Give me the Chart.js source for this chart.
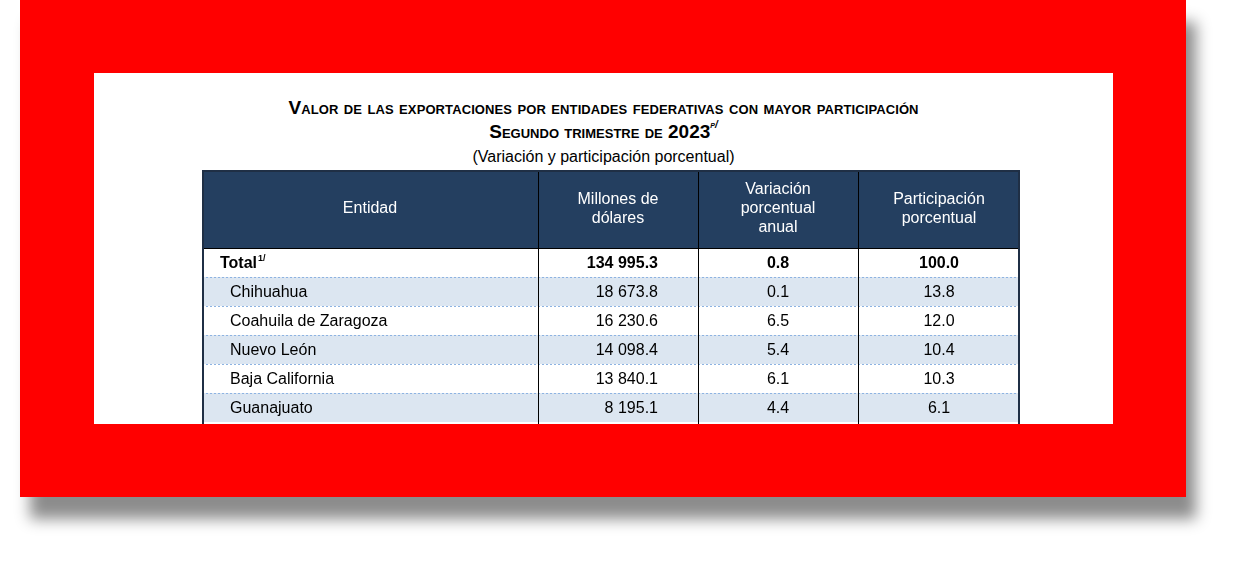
<!DOCTYPE html>
<html><head><meta charset="utf-8">
<script src="https://cdn.jsdelivr.net/npm/chart.js@4"></script>
<style>
html,body{margin:0;padding:0;background:#fff;width:1252px;height:563px;overflow:hidden;font-family:Arial,"Liberation Sans",sans-serif}
#red{position:absolute;left:20px;top:0;width:1166px;height:497px;background:#ff0000;box-shadow:10px 22px 14px rgba(0,0,0,0.45)}
#white{position:absolute;left:74px;top:73px;width:1019px;height:351px;background:#fff;overflow:hidden}
#t1{position:absolute;left:0;width:100%;top:24px;text-align:center;font-weight:bold;font-size:19px;font-variant:small-caps;color:#000;letter-spacing:0.1px}
#t2{position:absolute;left:0;width:100%;top:48px;text-align:center;font-weight:bold;font-size:19px;font-variant:small-caps;color:#000}
#t2 sup{font-size:10px;font-style:italic;vertical-align:top;position:relative;top:-2px}
#t3{position:absolute;left:0;width:100%;top:75px;text-align:center;font-size:16px;color:#000}
#wrap{position:absolute;left:108px;top:97px;width:818px;height:270px}
</style></head><body>
<div id="red"><div id="white">
<div id="t1">Valor de las exportaciones por entidades federativas con mayor participación</div>
<div id="t2">Segundo trimestre de 2023<sup>p/</sup></div>
<div id="t3">(Variación y participación porcentual)</div>
<div id="wrap"><canvas id="c"></canvas></div>
</div></div>
<script>
const headers = [["Entidad"],["Millones de","dólares"],["Variación","porcentual","anual"],["Participación","porcentual"]];
const entidades = ["Total","Chihuahua","Coahuila de Zaragoza","Nuevo León","Baja California","Guanajuato"];
const millones = ["134 995.3","18 673.8","16 230.6","14 098.4","13 840.1","8 195.1"];
const variacion = ["0.8","0.1","6.5","5.4","6.1","4.4"];
const participacion = ["100.0","13.8","12.0","10.4","10.3","6.1"];

const colEdges = [0,336,496,656,818];
const headerH = 2.69;
const rowFill = ["#ffffff","#dce6f1","#ffffff","#dce6f1","#ffffff","#dce6f1"];

const tablePlugin = {
  id:'table',
  afterDatasetsDraw(chart){
    const ctx = chart.ctx, xs = chart.scales.x, ys = chart.scales.y;
    const X = v=>xs.getPixelForValue(v), Y = v=>ys.getPixelForValue(v);
    ctx.save();
    // header
    ctx.fillStyle = "#243f60";
    ctx.fillRect(X(0),Y(0),X(818)-X(0),Y(headerH)-Y(0));
    ctx.fillStyle="#fff"; ctx.font="16px Arial, 'Liberation Sans'"; ctx.textAlign="center"; ctx.textBaseline="middle";
    headers.forEach((lines,i)=>{
      const cx=(X(colEdges[i])+X(colEdges[i+1]))/2, cy=(Y(0)+Y(headerH))/2, lh=19;
      lines.forEach((l,k)=>ctx.fillText(l,cx,cy+(k-(lines.length-1)/2)*lh));
    });
    // rows
    const cols=[entidades,millones,variacion,participacion];
    entidades.forEach((e,r)=>{
      const y0=Y(headerH+r), y1=Y(headerH+r+1);
      ctx.fillStyle=rowFill[r]; ctx.fillRect(X(0),y0,X(818)-X(0),y1-y0);
      ctx.fillStyle="#000";
      const bold = r===0;
      ctx.font=(bold?"bold ":"")+"16px Arial, 'Liberation Sans'";
      const cy=(y0+y1)/2+1;
      ctx.textAlign="left";
      ctx.fillText(e, X(bold?18:28), cy);
      if(bold){const w=ctx.measureText(e).width; ctx.font="bold 9px Arial"; ctx.fillText("1/",X(18)+w+1,cy-5); ctx.font="bold 16px Arial, 'Liberation Sans'";}
      ctx.textAlign="right"; ctx.fillText(millones[r], X(456), cy);
      ctx.textAlign="center";
      ctx.fillText(variacion[r], (X(496)+X(656))/2, cy);
      ctx.fillText(participacion[r], (X(656)+X(818))/2, cy);
      if(r>0){
        ctx.strokeStyle="#8db3e2"; ctx.lineWidth=1; ctx.setLineDash([2,2]);
        ctx.beginPath(); ctx.moveTo(X(0),Math.round(y0)+0.5); ctx.lineTo(X(818),Math.round(y0)+0.5); ctx.stroke();
        ctx.setLineDash([]);
      }
    });
    // column dividers
    ctx.strokeStyle="#000"; ctx.lineWidth=1;
    [336,496,656].forEach(v=>{ctx.beginPath();ctx.moveTo(Math.round(X(v))+0.5,Y(0));ctx.lineTo(Math.round(X(v))+0.5,Y(12));ctx.stroke();});
    ctx.beginPath();ctx.moveTo(X(0),Math.round(Y(headerH))+0.5);ctx.lineTo(X(818),Math.round(Y(headerH))+0.5);ctx.stroke();
    // outer border
    ctx.strokeStyle="#1f2f45"; ctx.lineWidth=2;
    ctx.beginPath();ctx.moveTo(X(0)+1,Y(12));ctx.lineTo(X(0)+1,Y(0)+1);ctx.lineTo(X(818)-1,Y(0)+1);ctx.lineTo(X(818)-1,Y(12));ctx.stroke();
    ctx.restore();
  }
};

new Chart(document.getElementById('c'),{
  type:'scatter',
  data:{datasets:[{data:[],pointRadius:0}]},
  options:{
    responsive:true, maintainAspectRatio:false, animation:false,
    layout:{padding:0},
    plugins:{legend:{display:false},tooltip:{enabled:false}},
    scales:{
      x:{type:'linear',min:0,max:818,display:false},
      y:{type:'linear',min:0,max:270/29,reverse:true,display:false}
    }
  },
  plugins:[tablePlugin]
});
</script>
</body></html>
